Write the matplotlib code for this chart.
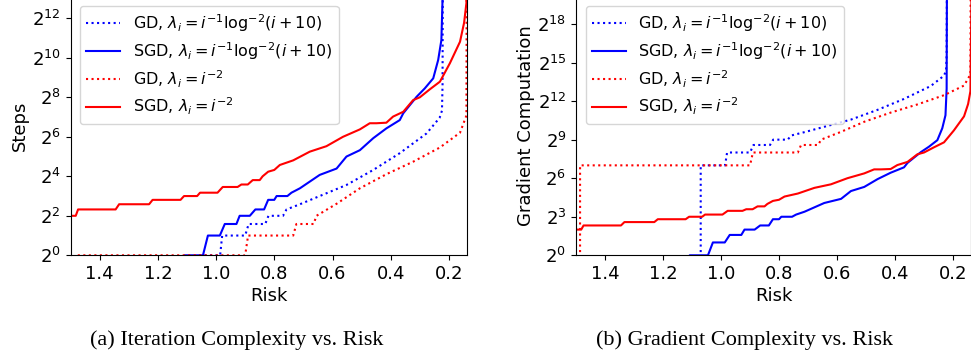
import numpy as np
import matplotlib
matplotlib.use('Agg')
import matplotlib.pyplot as plt
from matplotlib.ticker import FixedLocator, FuncFormatter, NullLocator

# risk reached (x) vs. number of steps needed (y)
sgd_log_risk = [1.50, 1.108, 1.108, 1.045, 1.028, 0.987, 0.97, 0.93, 0.919, 0.884,
                0.865, 0.835, 0.821, 0.80, 0.792, 0.755, 0.741, 0.712, 0.644, 0.586,
                0.552, 0.506, 0.46, 0.415, 0.369, 0.357, 0.311, 0.283, 0.254, 0.237,
                0.226, 0.222, 0.221]
sgd_log_steps = [0, 0, 1, 1, 2, 2, 3, 3, 4, 4,
                 5, 5, 7, 7, 8, 8, 9, 10.5, 16.8, 21,
                 32, 40, 61, 86, 115, 146, 261, 350, 498, 949,
                 1910, 8000, 2e6]

gd_log_risk = [1.50, 1.07, 1.07, 0.986, 0.979, 0.90, 0.888, 0.831, 0.82, 0.77,
               0.758, 0.712, 0.644, 0.552, 0.46, 0.369, 0.277, 0.25, 0.232, 0.224,
               0.222, 0.221]
gd_log_steps = [0, 0, 1, 1, 2, 2, 3, 3, 4, 4,
                5, 6, 8, 11.8, 20, 36, 72, 100, 125, 160,
                400, 30000]

gd_poly_risk = [1.50, 1.486, 1.486, 0.90, 0.89, 0.735, 0.724, 0.665, 0.655, 0.586,
                0.506, 0.414, 0.323, 0.231, 0.162, 0.151, 0.14, 0.139]
gd_poly_steps = [0, 0, 1, 1, 2, 2, 3, 3, 4, 6.1,
                 10.5, 17.3, 26.7, 44, 74, 100, 135, 30000]

sgd_poly_risk = [1.50, 1.482, 1.474, 1.345, 1.333, 1.23, 1.218, 1.122, 1.11, 1.065,
                 1.055, 0.995, 0.977, 0.926, 0.913, 0.891, 0.874, 0.85, 0.84, 0.821,
                 0.80, 0.781, 0.735, 0.678, 0.621, 0.564, 0.506, 0.472, 0.449, 0.415,
                 0.392, 0.357, 0.323, 0.30, 0.266, 0.231, 0.197, 0.162, 0.148, 0.14,
                 0.136]
sgd_poly_steps = [4, 4, 5, 5, 6, 6, 7, 7, 8, 8,
                  9, 9, 11, 11, 12, 12, 14, 14, 16, 18.8,
                  20, 23.8, 28, 38, 46, 64, 83, 103, 103, 105,
                  130, 154, 232, 256, 338, 443, 843, 1800, 3500, 7000,
                  2e6]

# full-batch GD uses one gradient per sample per step (the 2^7 offset)
GD_GRAD_PER_STEP = 128

labels = [r'GD, $\lambda_i = i^{-1}\mathrm{log}^{-2}(i+10)$',
          r'SGD, $\lambda_i = i^{-1}\mathrm{log}^{-2}(i+10)$',
          r'GD, $\lambda_i = i^{-2}$',
          r'SGD, $\lambda_i = i^{-2}$']

W, H = 971, 356


def pow2_formatter(v, pos):
    return r'$2^{%d}$' % int(round(np.log2(v)))


def setup_axis(ax, ylabel, top_pow, tick_pows):
    ax.set_yscale('log', base=2, nonpositive='clip')
    ax.set_xlim(1.5, 0.138)
    ax.set_ylim(1, 2 ** top_pow)
    ax.set_xticks([1.4, 1.2, 1.0, 0.8, 0.6, 0.4, 0.2])
    ax.set_xticklabels(['1.4', '1.2', '1.0', '0.8', '0.6', '0.4', '0.2'])
    ax.yaxis.set_major_locator(FixedLocator([2.0 ** p for p in tick_pows]))
    ax.yaxis.set_major_formatter(FuncFormatter(pow2_formatter))
    ax.yaxis.set_minor_locator(NullLocator())
    ax.tick_params(labelsize=13)
    ax.set_xlabel('Risk', fontsize=13, labelpad=3)
    ax.set_ylabel(ylabel, fontsize=13, labelpad=2)
    ax.legend(loc='upper left', fontsize=11.5, bbox_to_anchor=(0.0, 1.0),
              borderaxespad=0.6, labelspacing=0.4, handlelength=2.1,
              framealpha=0.8)


def plot_panel(ax, gd_scale):
    ax.plot(gd_log_risk, np.array(gd_log_steps) * gd_scale, color='blue',
            linestyle=':', lw=1.5, label=labels[0])
    ax.plot(sgd_log_risk, sgd_log_steps, color='blue', lw=1.5, label=labels[1])
    ax.plot(gd_poly_risk, np.array(gd_poly_steps) * gd_scale, color='red',
            linestyle=':', lw=1.5, label=labels[2])
    ax.plot(sgd_poly_risk, sgd_poly_steps, color='red', lw=1.5, label=labels[3])


def main():
    fig = plt.figure(figsize=(W / 100, H / 100), dpi=100)
    bottom = 1 - 255.3 / H
    height = (255.3 + 4) / H
    ax1 = fig.add_axes([70.5 / W, bottom, 396.5 / W, height])
    ax2 = fig.add_axes([576 / W, bottom, 395 / W, height])

    plot_panel(ax1, 1)
    setup_axis(ax1, 'Steps', (255.3 + 4) / 19.75, range(0, 13, 2))

    plot_panel(ax2, GD_GRAD_PER_STEP)
    setup_axis(ax2, 'Gradient Computation', (255.3 + 4) / 12.85, range(0, 19, 3))

    fig.text(237 / W, 1 - 340 / H, '(a) Iteration Complexity vs. Risk',
             family='Liberation Serif', fontsize=16, ha='center', va='center')
    fig.text(745 / W, 1 - 340 / H, '(b) Gradient Complexity vs. Risk',
             family='Liberation Serif', fontsize=16, ha='center', va='center')

    fig.savefig('out.png', dpi=100)


if __name__ == '__main__':
    main()
